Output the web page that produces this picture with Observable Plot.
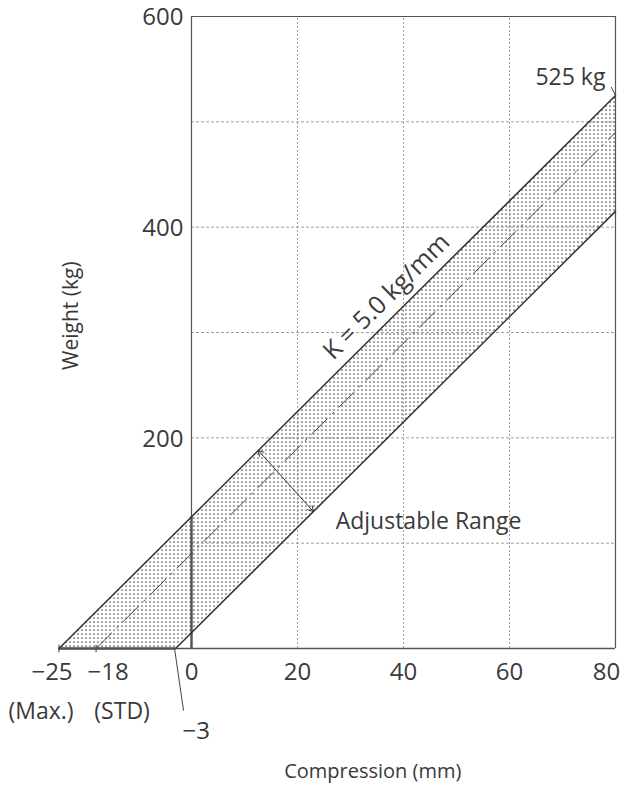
<!DOCTYPE html>
<html><head><meta charset="utf-8">
<script src="https://cdn.jsdelivr.net/npm/d3@7"></script>
<script src="https://cdn.jsdelivr.net/npm/@observablehq/plot@0.6"></script>
<style>body{margin:0;background:#fff} svg{display:block}</style>
</head><body><div id="chart"></div>
<script>
// ---- data ----
const xTicks = [0, 20, 40, 60];
const xLastTick = 80;
const xExtraTicks = [-25, -18];
const xExtraLabels = ["−25", "−18"];
const xExtraNotes = ["(Max.)", "(STD)"];
const yTicks = [200, 400, 600];
const gridX = [20, 40, 60];
const gridY = [100, 200, 300, 400, 500];

const upperLine = [{x: -25, y: 0}, {x: 80, y: 525}];   // K = 5.0 kg/mm, max
const centerLine = [{x: -18, y: 0}, {x: 80, y: 490}];  // STD
const lowerLine = [{x: -3, y: 0}, {x: 80, y: 415}];

const bandX = [-25, -3, 80];
const bandTop = [0, 110, 525];
const bandBottom = [0, 0, 415];

const arrowEnds = [{x: 12.6, y: 188}, {x: 23, y: 130}];
const arrowMid = {x: 17.8, y: 159};

const band = bandX.map((x, i) => ({x, hi: bandTop[i], lo: bandBottom[i]}));

const font = "'Open Sans', 'DejaVu Sans', sans-serif";
const ink = "#3a3a3a";
const tickFs = 24;

const chart = Plot.plot({
  width: 622,
  height: 792,
  marginLeft: 58.5,
  marginRight: 7,
  marginTop: 16,
  marginBottom: 144,
  x: {domain: [-25, 80], axis: null},
  y: {domain: [0, 600], axis: null},
  style: {fontFamily: font, color: ink, background: "white"},
  marks: [
    // stippled band
    Plot.areaY(band, {x: "x", y1: "lo", y2: "hi", fill: "url(#dots)"}),
    // grid
    Plot.ruleX(gridX, {y1: 0, y2: 600, stroke: "#888", strokeWidth: 0.8, strokeDasharray: "2,2"}),
    Plot.ruleY(gridY, {x1: 0, x2: 80, stroke: "#888", strokeWidth: 0.8, strokeDasharray: "3,2"}),
    // frame
    Plot.ruleX([0, 80], {y1: 0, y2: 600, stroke: "#555", strokeWidth: 1.2}),
    Plot.ruleY([600], {x1: 0, x2: 80, stroke: "#555", strokeWidth: 1.2}),
    Plot.ruleY([0], {x1: -25, x2: 80, stroke: "#555", strokeWidth: 1.4}),
    // emphasised segments inside the band
    Plot.ruleX([0], {y1: 0, y2: 125, stroke: "#555", strokeWidth: 2.4}),
    Plot.ruleY([0], {x1: -25, x2: -3, stroke: "#555", strokeWidth: 2.4}),
    Plot.ruleX(xExtraTicks, {y1: -4, y2: 3, stroke: "#555", strokeWidth: 1.2}),
    // lines
    Plot.line(upperLine, {x: "x", y: "y", stroke: "#333", strokeWidth: 1.5}),
    Plot.line(lowerLine, {x: "x", y: "y", stroke: "#333", strokeWidth: 1.5}),
    Plot.line(centerLine, {x: "x", y: "y", stroke: "#444", strokeWidth: 1, strokeDasharray: "22,7,2,7"}),
    // adjustable range double arrow
    Plot.arrow(arrowEnds, {x1: () => arrowMid.x, y1: () => arrowMid.y, x2: "x", y2: "y",
      stroke: "#333", strokeWidth: 1, headLength: 9}),
    Plot.text(["Adjustable Range"], {x: 27.2, y: 120, text: d => d, textAnchor: "start",
      fontSize: 23, fill: ink}),
    Plot.text(["K = 5.0 kg/mm"], {x: 36.8, y: 334, text: d => d, rotate: -44.8,
      fontSize: 25, fill: ink}),
    Plot.text(["525 kg"], {x: 78.1, y: 542, text: d => d, textAnchor: "end",
      fontSize: 23, fill: ink}),
    Plot.link([{x1: 79.2, y1: 533, x2: 80, y2: 525}], {x1: "x1", y1: "y1", x2: "x2", y2: "y2",
      stroke: "#444", strokeWidth: 1}),
    // y tick labels
    Plot.text(yTicks, {x: 0, y: d => d, text: d => String(d), textAnchor: "end", dx: -8, dy: 1,
      fontSize: tickFs, fill: ink}),
    // x tick labels
    Plot.text(xTicks, {x: d => d, y: 0, text: d => String(d), dy: 24, fontSize: tickFs, fill: ink}),
    Plot.text([xLastTick], {x: d => d, y: 0, text: d => String(d), dy: 24, dx: -9, fontSize: tickFs, fill: ink}),
    Plot.text([xExtraTicks[0]], {x: d => d, y: 0, text: () => xExtraLabels[0], dy: 24, dx: -7,
      fontSize: tickFs, fill: ink}),
    Plot.text([xExtraTicks[1]], {x: d => d, y: 0, text: () => xExtraLabels[1], dy: 24, dx: 12,
      fontSize: tickFs, fill: ink}),
    Plot.text([xExtraTicks[0]], {x: d => d, y: 0, text: () => xExtraNotes[0], dy: 63, dx: -18,
      fontSize: 23, fill: ink}),
    Plot.text([xExtraTicks[1]], {x: d => d, y: 0, text: () => xExtraNotes[1], dy: 63, dx: 26,
      fontSize: 23, fill: ink}),
    // -3 leader + label
    Plot.link([{x1: -3.2, y1: 0, x2: -1.5, y2: -59}], {x1: "x1", y1: "y1", x2: "x2", y2: "y2",
      stroke: "#444", strokeWidth: 1}),
    Plot.text(["−3"], {x: 0.9, y: -79, text: d => d, fontSize: tickFs, fill: ink}),
    // axis titles
    Plot.text(["Compression (mm)"], {x: 34.2, y: -117, text: d => d, fontSize: 20, fill: ink}),
    Plot.text(["Weight (kg)"], {x: -25, y: 316, dx: 12, text: d => d, rotate: -90,
      fontSize: 21, fill: ink})
  ]
});

// stipple pattern definition
const svg = d3.select(chart);
const defs = svg.insert("defs", ":first-child");
const pat = defs.append("pattern").attr("id", "dots").attr("patternUnits", "userSpaceOnUse")
  .attr("width", 4).attr("height", 4);
pat.append("circle").attr("cx", 2).attr("cy", 2).attr("r", 0.85).attr("fill", "#555");

document.getElementById("chart").appendChild(chart);
</script>
</body></html>
